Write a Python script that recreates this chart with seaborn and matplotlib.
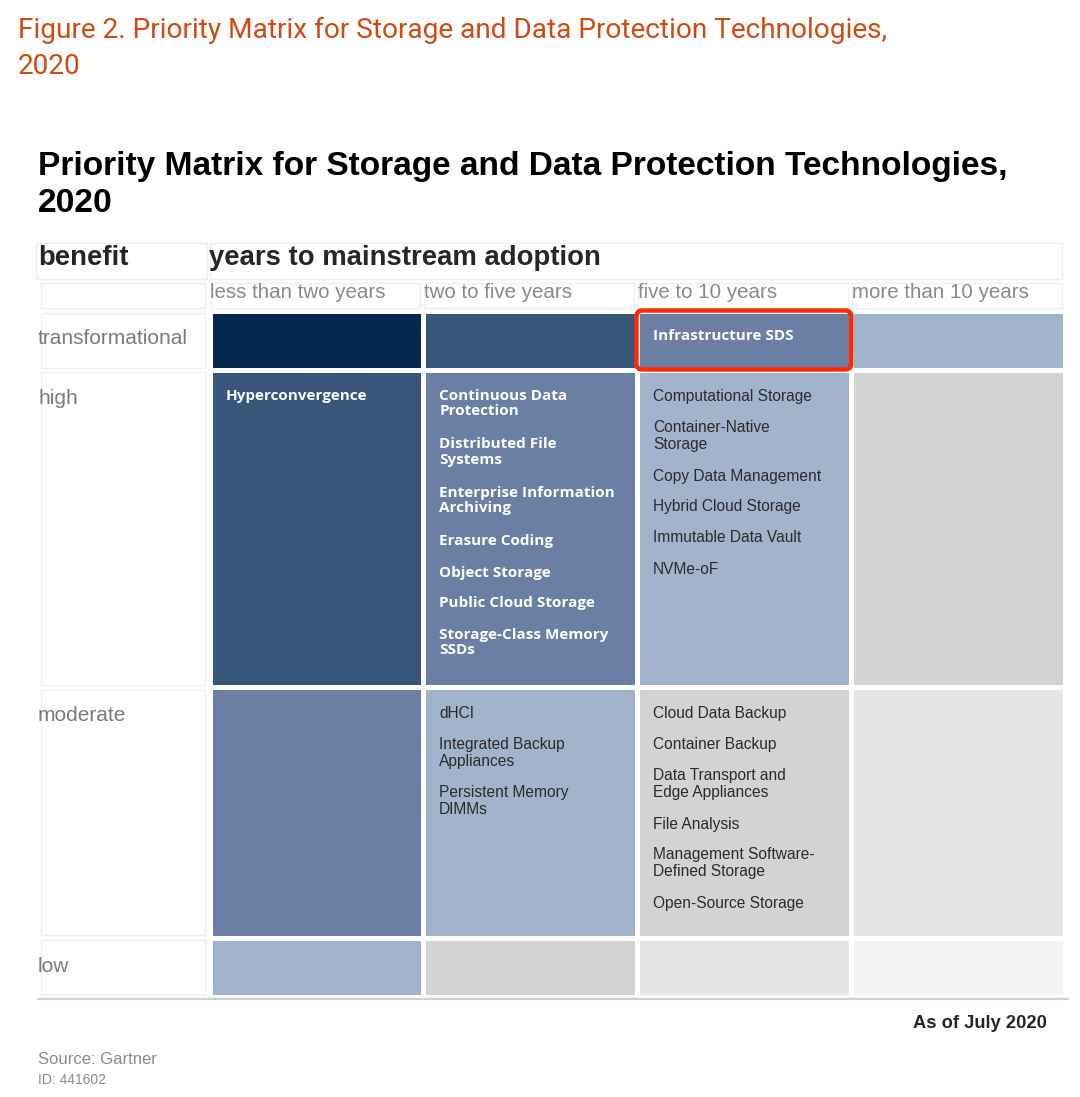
import numpy as np
import matplotlib.pyplot as plt
import matplotlib.patches as mpatches
from matplotlib.colors import ListedColormap
from matplotlib.transforms import IdentityTransform
import seaborn as sns

# chart data
benefit = ["transformational", "high", "moderate", "low"]
years = ["less than two years", "two to five years", "five to 10 years", "more than 10 years"]
# shading level of each cell (0 = darkest / top priority)
priority = [[0, 1, 2, 3],
            [1, 2, 3, 4],
            [2, 3, 4, 5],
            [3, 4, 5, 6]]
transformational_techs = [[], [], ["Infrastructure SDS"], []]
high_techs = [["Hyperconvergence"],
              ["Continuous Data\nProtection", "Distributed File\nSystems",
               "Enterprise Information\nArchiving", "Erasure Coding", "Object Storage",
               "Public Cloud Storage", "Storage-Class Memory\nSSDs"],
              ["Computational Storage", "Container-Native\nStorage", "Copy Data Management",
               "Hybrid Cloud Storage", "Immutable Data Vault", "NVMe-oF"],
              []]
moderate_techs = [[],
                  ["dHCI", "Integrated Backup\nAppliances", "Persistent Memory\nDIMMs"],
                  ["Cloud Data Backup", "Container Backup", "Data Transport and\nEdge Appliances",
                   "File Analysis", "Management Software-\nDefined Storage", "Open-Source Storage"],
                  []]
low_techs = [[], [], [], []]
techs = [transformational_techs, high_techs, moderate_techs, low_techs]
highlight = ("transformational", "five to 10 years")

level_colors = ["#062752", "#37567A", "#6A7FA3", "#A2B3CC", "#D3D3D3", "#E5E5E5", "#F3F3F3"]

sns.set_theme(style="white")
plt.rcParams['font.family'] = ['Liberation Sans', 'DejaVu Sans']

W, H = 1080, 1097
fig = plt.figure(figsize=(W / 100, H / 100), dpi=100)

def fx(px):
    return px / W

def fy(py):
    return 1 - py / H

# layout (pixels)
grid_left, grid_right = 209.5, 1064.5
row_edges = [310.5, 370, 687, 937.5, 996.5]
PT = 0.72  # points per pixel

fig.text(fx(18), fy(30), "Figure 2. Priority Matrix for Storage and Data Protection Technologies,",
         color="#D04A12", fontsize=20.2, family=['Roboto', 'DejaVu Sans'], va='center')
fig.text(fx(18), fy(66), "2020",
         color="#D04A12", fontsize=20.2, family=['Roboto', 'DejaVu Sans'], va='center')
fig.text(fx(38), fy(166), "Priority Matrix for Storage and Data Protection Technologies,",
         color="black", fontsize=24.1, fontweight='bold', va='center')
fig.text(fx(38), fy(204), "2020", color="black", fontsize=24.1, fontweight='bold', va='center')

# header boxes
def faint_box(x0, y0, x1, y1):
    fig.patches.append(mpatches.Rectangle((fx(x0), fy(y1)), fx(x1 - x0), (y1 - y0) / H,
                                          transform=fig.transFigure, fill=False,
                                          edgecolor="#EFEFEF", lw=1.0, zorder=0.5))

faint_box(36, 243, 207, 279)
faint_box(210, 243, 1062, 279)
fig.text(fx(38), fy(258), "benefit", fontsize=19.8, fontweight='bold', va='center')
fig.text(fx(209), fy(258), "years to mainstream adoption", fontsize=19.8, fontweight='bold', va='center')
faint_box(41, 283, 205, 308)
col_w = (grid_right - grid_left) / 4
for j, label in enumerate(years):
    x0 = grid_left + j * col_w + 1
    faint_box(x0, 283, x0 + col_w - 4, 308)
    fig.text(fx(x0), fy(292), label, fontsize=14.8, color="#8A8A8A", va='center')

for i, row in enumerate(benefit):
    top, bottom = row_edges[i], row_edges[i + 1]
    ax = fig.add_axes([fx(grid_left), fy(bottom), fx(grid_right - grid_left), (bottom - top) / H])
    sns.heatmap(np.array([priority[i]]), ax=ax, cmap=ListedColormap(level_colors),
                vmin=-0.5, vmax=6.5, cbar=False, linewidths=3.6, linecolor='white',
                xticklabels=False, yticklabels=False)
    ax.set_xlabel("")
    ax.set_ylabel("")

    # row label
    faint_box(41, top + 2.5, 205, bottom - 2.5)
    fig.text(fx(38), fy(top + 19), row, va='top', ha='left', fontsize=15, color="#7A7A7A")

    for j, items in enumerate(techs[i]):
        dark = priority[i][j] <= 2
        offset = 19
        for name in items:
            if dark:
                ax.annotate(name, xy=(j, 0), xytext=(16 * PT, -offset * PT), textcoords='offset points',
                            va='top', ha='left', fontsize=11, fontweight='bold', color='white',
                            family=['Open Sans', 'DejaVu Sans'], linespacing=1.12)
            else:
                ax.annotate(name, xy=(j, 0), xytext=(16 * PT, -offset * PT), textcoords='offset points',
                            va='top', ha='left', fontsize=11.2, color='#2B2B2B', linespacing=1.15)
            offset += 31 + 17.5 * name.count("\n")

    if row == highlight[0]:
        j = years.index(highlight[1])
        fig.canvas.draw()
        (x0, y0), (x1, y1) = ax.transData.transform([(j, 1), (j + 1, 0)])
        box = mpatches.FancyBboxPatch((x0 - 0.5, y0 + 0.5), x1 - x0 + 1, y1 - y0 - 0.5,
                                      boxstyle="round,pad=0,rounding_size=6",
                                      transform=IdentityTransform(), fill=False,
                                      edgecolor="#FF2A00", lw=3.2, clip_on=False)
        fig.patches.append(box)

# bottom rule and notes
fig.lines.append(plt.Line2D([fx(38), fx(1068)], [fy(999), fy(999)], transform=fig.transFigure,
                            color="#D0D0D0", lw=1.6))
fig.text(fx(1047), fy(1023), "As of July 2020", fontsize=13.2, fontweight='bold', ha='right', va='center')
fig.text(fx(38), fy(1060), "Source: Gartner", fontsize=12, color="#8A8A8A", va='center')
fig.text(fx(38), fy(1080), "ID: 441602", fontsize=10, color="#8A8A8A", va='center')

fig.savefig("out.png", dpi=100)
